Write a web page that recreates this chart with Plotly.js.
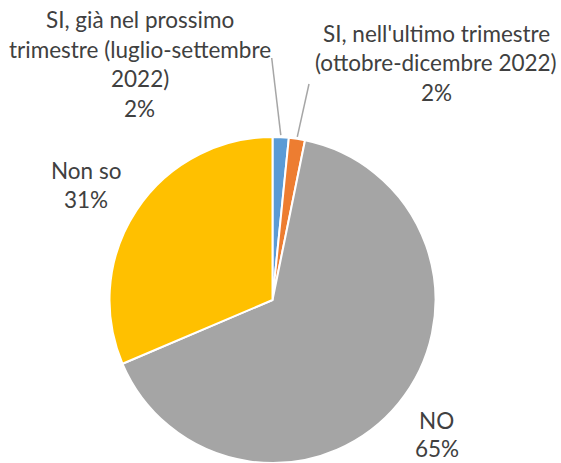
<!DOCTYPE html>
<html><head><meta charset="utf-8">
<script src="https://cdn.plot.ly/plotly-3.0.1.min.js"></script>
<style>html,body{margin:0;padding:0;background:#fff}#chart{width:561px;height:463px}</style>
</head><body><div id="chart"></div>
<script>
const labels = ["SI, già nel prossimo trimestre (luglio-settembre 2022)", "SI, nell'ultimo trimestre (ottobre-dicembre 2022)", "NO", "Non so"];
const labelLines = [["SI, già nel prossimo", "trimestre (luglio-settembre", "2022)"], ["SI, nell'ultimo trimestre", "(ottobre-dicembre 2022)"], ["NO"], ["Non so"]];
const values = [1.6, 1.6, 65.4, 31.4];
const colors = ["#5B9BD5", "#ED7D31", "#A5A5A5", "#FFC000"];

const W = 561, H = 463;
const cx = 272.5, cy = 300, R = 163;
const labelPos = [[139.5, 64], [436, 62.6], [436.7, 434], [85.5, 184.8]];
const lineGap = 29.5;
const fontSpec = {family: "Lato, 'Open Sans', sans-serif", size: 22.5, color: "#404040"};

const total = values.reduce((a, b) => a + b, 0);
const pct = values.map(v => Math.round(v / total * 100) + "%");

const annotations = [];
labelLines.forEach((lines, i) => {
  const all = lines.concat([pct[i]]);
  const n = all.length;
  const gap = (i === 2) ? 28 : lineGap;
  all.forEach((t, j) => {
    const py = labelPos[i][1] + (j - (n - 1) / 2) * gap;
    annotations.push({
      text: t, showarrow: false, xref: "paper", yref: "paper",
      x: labelPos[i][0] / W, y: 1 - py / H, xanchor: "center", yanchor: "middle",
      font: fontSpec
    });
  });
});

// leader lines for the two small slices, ending at slice mid-angle
const leaderStart = [[271.7, 58], [309, 84]];
const shapes = [];
let cum = 0;
values.forEach((v, i) => {
  const mid = (cum + v / 2) / total * 2 * Math.PI;
  cum += v;
  if (i < 2) {
    const ex = cx + (R + 2) * Math.sin(mid);
    const ey = cy - (R + 2) * Math.cos(mid);
    shapes.push({
      type: "line", xref: "paper", yref: "paper",
      x0: leaderStart[i][0] / W, y0: 1 - leaderStart[i][1] / H,
      x1: ex / W, y1: 1 - ey / H,
      line: {color: "#A6A6A6", width: 1.5}
    });
  }
});

const data = [{
  type: "pie",
  labels: labels,
  values: values,
  sort: false,
  direction: "clockwise",
  rotation: 0,
  textinfo: "none",
  hoverinfo: "skip",
  marker: {colors: colors, line: {color: "#FFFFFF", width: 2}},
  domain: {x: [(cx - R) / W, (cx + R) / W], y: [(H - (cy + R)) / H, (H - (cy - R)) / H]}
}];

const layout = {
  width: W, height: H,
  margin: {l: 0, r: 0, t: 0, b: 0},
  showlegend: false,
  paper_bgcolor: "#FFFFFF",
  annotations: annotations,
  shapes: shapes
};

Plotly.newPlot("chart", data, layout, {displayModeBar: false, staticPlot: true});
</script>
</body></html>
